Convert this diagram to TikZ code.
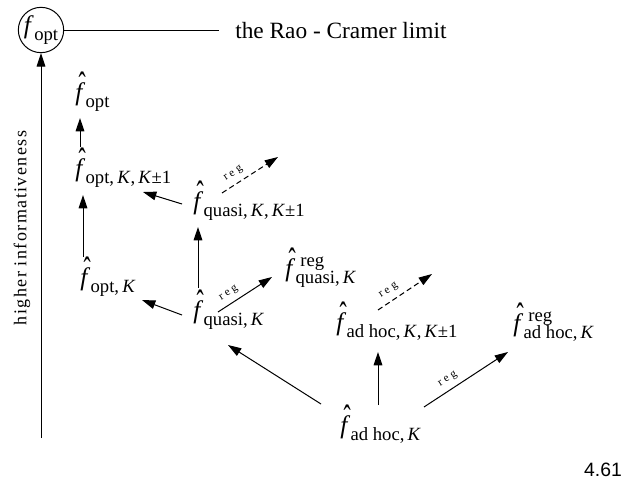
\documentclass[tikz,border=0pt]{standalone}
\usepackage{fontspec}
\setmainfont{Liberation Serif}
\newfontfamily\numfont{Liberation Sans}
\usetikzlibrary{arrows.meta}
\usepackage{graphicx}
% f with a hat
\newcommand\fhat{\leavevmode\rlap{\hspace{2.6pt}\raisebox{2pt}{\scalebox{0.85}[1.45]{\char"02C6}}}\textit{f}}
% subscript / superscript in text mode
\newcommand\lsub[1]{\hspace{0.3pt}\raisebox{-5.25pt}{\fontsize{14}{14}\selectfont #1}}
\newcommand\lsubsup[2]{\hspace{0.3pt}\rlap{\hspace{3.5pt}\raisebox{7pt}{\fontsize{14}{14}\selectfont #2}}\raisebox{-5.25pt}{\fontsize{14}{14}\selectfont #1}}
\newcommand\cK{,\thinspace\textit{K}}
\begin{document}
\begin{tikzpicture}[x=0.75pt,y=-0.75pt,
  lbl/.style={inner sep=0pt, anchor=base west, font=\fontsize{19}{22}\selectfont},
  arr/.style={-{Triangle[length=10pt,width=6.5pt]}, line width=0.75pt},
  dsh/.style={arr, dash pattern=on 4pt off 2.5pt},
  regl/.style={font=\fontsize{8.5}{9}\selectfont\addfontfeature{LetterSpace=25}, sloped, above=3pt, inner sep=1pt}]
\useasboundingbox (0,0) rectangle (643,482);
% top
\node[circle, draw, line width=0.75pt, inner sep=0pt, minimum size=34pt,
      font=\fontsize{19}{22}\selectfont] (fopt) at (41,30) {\raisebox{1.5pt}{\textit{f}\lsub{opt}}};
\node[anchor=base west, inner sep=0pt, font=\fontsize{17.5}{20}\selectfont] (rao) at (235,38) {the Rao - Cramer limit};
\draw[line width=0.75pt] (fopt.east) -- ([xshift=-12]rao.west |- fopt.east);
\coordinate (axb) at (41,438);
\draw[arr] (axb) -- (fopt.south);
\node[rotate=90, font=\fontsize{13.5}{15}\selectfont\addfontfeature{LetterSpace=8}] (axl) at (22,228) {higher informativeness};
% nodes
\node[lbl] (o)   at (75,100)  {\fhat\lsub{opt}};
\node[lbl] (oKK) at (75,176)  {\fhat\lsub{opt\cK\cK±1}};
\node[lbl] (oK)  at (80,285)  {\fhat\lsub{opt\cK}};
\node[lbl] (qKK) at (193,209) {\fhat\lsub{quasi\cK\cK±1}};
\node[lbl] (qK)  at (193,318) {\fhat\lsub{quasi\cK}};
\node[lbl] (qR)  at (285,276) {\fhat\lsubsup{quasi\cK}{reg}};
\node[lbl] (aKK) at (336,330) {\fhat\lsub{ad hoc\cK\cK±1}};
\node[lbl] (aR)  at (513,331) {\fhat\lsubsup{ad hoc\cK}{reg}};
\node[lbl] (aK)  at (340,433) {\fhat\lsub{ad hoc\cK}};
\node[font=\numfont\fontsize{14.5}{17}\selectfont] (num) at (603,470) {4.61};
% connectors
\draw[arr] ([shift={(5,-29)}]oKK.base west) -- ([shift={(5,18)}]o.base west);
\draw[arr] ([shift={(3,-28)}]oK.base west) -- ([shift={(8,19)}]oKK.base west);
\draw[arr] ([shift={(-11,-5)}]qKK.base west) -- ([shift={(68,16)}]oKK.base west);
\draw[arr] ([shift={(-11,-3)}]qK.base west) -- ([shift={(62,15)}]oK.base west);
\draw[arr] ([shift={(5,-30)}]qK.base west) -- ([shift={(5,18)}]qKK.base west);
\draw[arr] ([shift={(25,-6)}]qK.base west) -- node[regl, pos=0.3] {reg} ([shift={(-13,1)}]qR.base west);
\coordinate (qKKr) at ([shift={(85,-52)}]qKK.base west);
\draw[dsh] ([shift={(29,-16)}]qKK.base west) -- node[regl, pos=0.3] {reg} (qKKr);
\draw[arr] ([shift={(-19,-29)}]aK.base west) -- ([shift={(35,27)}]qK.base west);
\draw[arr] ([shift={(38,-28)}]aK.base west) -- ([shift={(42,22)}]aKK.base west);
\draw[arr] ([shift={(84,-26)}]aK.base west) -- node[regl, pos=0.35] {reg} ([shift={(-5,21)}]aR.base west);
\coordinate (aKKr) at ([shift={(96,-56)}]aKK.base west);
\draw[dsh] ([shift={(42,-20)}]aKK.base west) -- node[regl, pos=0.3] {reg} (aKKr);
\end{tikzpicture}
\end{document}
